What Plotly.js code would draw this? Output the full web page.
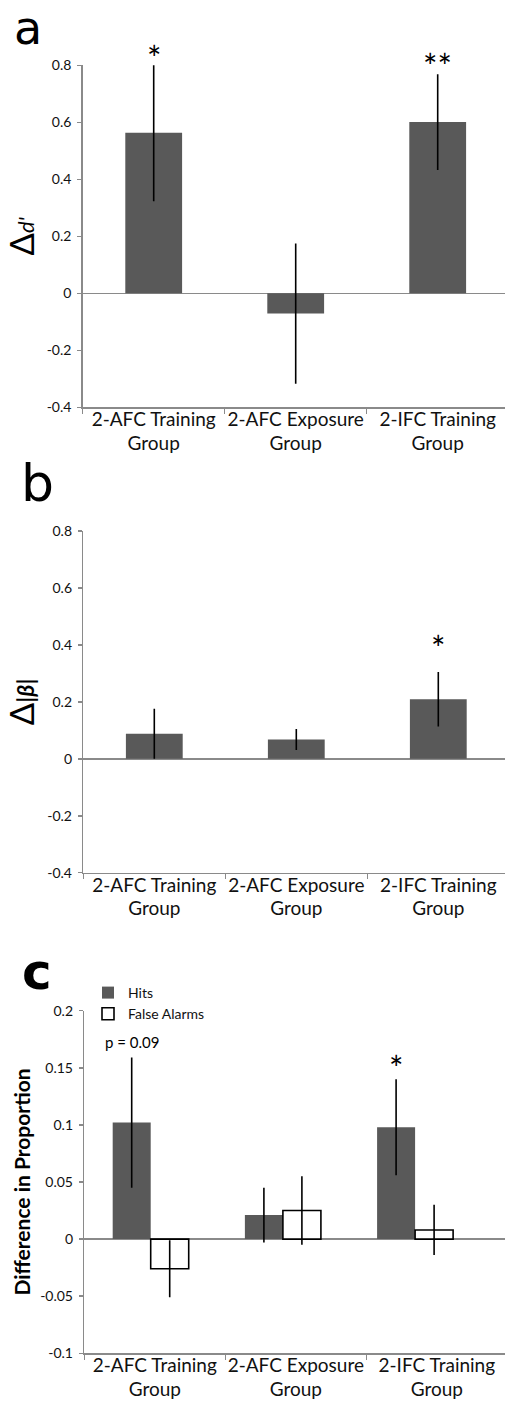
<!DOCTYPE html>
<html>
<head>
<meta charset="utf-8">
<script src="https://cdn.plot.ly/plotly-3.0.1.min.js"></script>
<style>html,body{margin:0;padding:0;background:#fff}</style>
</head>
<body>
<div id="chart" style="width:505px;height:1401px"></div>
<script>
// Groups shown on every panel
const groups = ['2-AFC Training Group', '2-AFC Exposure Group', '2-IFC Training Group'];
const groupLines = [['2-AFC Training', 'Group'], ['2-AFC Exposure', 'Group'], ['2-IFC Training', 'Group']];

// Panel a: change in d'
const dPrime = [0.563, -0.071, 0.601];
const dPrimeErr = [0.240, 0.246, 0.168];
const dPrimeSig = ['*', '', '**'];

// Panel b: change in |beta|
const beta = [0.088, 0.068, 0.209];
const betaErr = [0.088, 0.037, 0.096];
const betaSig = ['', '', '*'];

// Panel c: change in hit and false-alarm proportions
const hits = [0.102, 0.021, 0.098];
const hitsErr = [0.057, 0.024, 0.042];
const hitsSig = ['p = 0.09', '', '*'];
const falseAlarms = [-0.026, 0.025, 0.008];
const falseAlarmsErr = [0.025, 0.030, 0.022];

// Tick labels
const ticksAB = [0.8, 0.6, 0.4, 0.2, 0, -0.2, -0.4];
const ticksABText = ['0.8', '0.6', '0.4', '0.2', '0', '-0.2', '-0.4'];
const ticksC = [0.2, 0.15, 0.1, 0.05, 0, -0.05, -0.1];
const ticksCText = ['0.2', '0.15', '0.1', '0.05', '0', '-0.05', '-0.1'];

// ---- layout geometry (pixels) ----
const W = 505, H = 1401;
const FONT = 'Lato, "Open Sans", sans-serif';
const LETTER_FONT = '"DejaVu Sans", sans-serif';
const GRAY = '#8a8a8a';
const BAR = '#595959';

function yDom(topPx, bottomPx) { return [1 - bottomPx / H, 1 - topPx / H]; }
function xDom(leftPx) { return [leftPx / W, 1]; }

const panelA = {top: 65.3, bottom: 407.3, left: 82.7, cat: 142};
const panelB = {top: 531, bottom: 872.7, left: 83.3, cat: 142};
const panelC = {top: 1010.7, bottom: 1353.3, left: 84.3, cat: 141, barCat: 132.2, firstBar: 66.4};
const wideBar = 0.40;
const pairBar = 0.2875;

// two-line category labels: 19px glyphs on an 18px-font line pitch
const tickText = groupLines.map(function (ls) {
  return ls.map(function (l) { return '<span style="font-size:19px">' + l + '</span>'; }).join('<br>');
});

function catRange(p, cat, start) {
  const s = start === undefined ? -0.5 : start;
  return [s, s + (W - p.left) / cat];
}

function yAxis(p, range, vals, text, title, anchor) {
  return {
    domain: yDom(p.top, p.bottom), range: range, anchor: anchor,
    tickmode: 'array', tickvals: vals, ticktext: text,
    ticks: 'outside', ticklen: 4, tickwidth: 1.5, tickcolor: GRAY,
    ticklabelstandoff: 3,
    showline: true, linecolor: GRAY, linewidth: 1.5,
    zeroline: true, zerolinecolor: GRAY, zerolinewidth: 1.5,
    showgrid: false, fixedrange: true,
    tickfont: {family: FONT, size: 14, color: '#111'},
    title: title
  };
}

function xAxis(p, cat, anchor) {
  return {
    domain: xDom(p.left), range: catRange(p, cat), anchor: anchor,
    type: 'category', categoryorder: 'array', categoryarray: groups,
    tickmode: 'array', tickvals: groups, ticktext: tickText, tickangle: 0,
    tickson: 'boundaries', ticks: 'outside', ticklen: 5, tickwidth: 1.5, tickcolor: GRAY,
    ticklabelstandoff: -4,
    showline: true, linecolor: GRAY, linewidth: 1.5,
    showgrid: false, zeroline: false, fixedrange: true,
    tickfont: {family: FONT, size: 18, color: '#111'}
  };
}

const errStyle = {type: 'data', visible: true, thickness: 1.6, width: 0, color: '#000'};

const traces = [
  {
    type: 'bar', x: groups, y: dPrime, xaxis: 'x', yaxis: 'y', width: wideBar,
    marker: {color: BAR, line: {width: 0}},
    error_y: Object.assign({array: dPrimeErr}, errStyle),
    showlegend: false, hoverinfo: 'none'
  },
  {
    type: 'bar', x: groups, y: beta, xaxis: 'x2', yaxis: 'y2', width: wideBar,
    marker: {color: BAR, line: {width: 0}},
    error_y: Object.assign({array: betaErr}, errStyle),
    showlegend: false, hoverinfo: 'none'
  },
  {
    type: 'bar', name: 'Hits', x: groups, y: hits, xaxis: 'x4', yaxis: 'y3',
    width: pairBar, offset: -pairBar,
    marker: {color: BAR, line: {width: 0}},
    error_y: Object.assign({array: hitsErr}, errStyle),
    hoverinfo: 'none'
  },
  {
    type: 'bar', name: 'False Alarms', x: groups, y: falseAlarms, xaxis: 'x4', yaxis: 'y3',
    width: pairBar, offset: 0,
    marker: {color: '#fff', line: {width: 1.6, color: '#000'}},
    error_y: Object.assign({array: falseAlarmsErr}, errStyle),
    hoverinfo: 'none'
  },
  // registers the group categories on the label axis of panel c
  {
    type: 'scatter', mode: 'markers', x: groups, y: [null, null, null],
    xaxis: 'x3', yaxis: 'y3', showlegend: false, hoverinfo: 'none'
  }
];

const annotations = [];
// Panel letters, placed by their baseline
function letter(txt, xPx, baselinePx, size, bold) {
  annotations.push({
    xref: 'paper', yref: 'paper', x: xPx / W, y: 1 - (baselinePx - 0.928 * size) / H,
    xanchor: 'left', yanchor: 'top', showarrow: false, borderpad: 0,
    text: bold ? '<b>' + txt + '</b>' : txt,
    font: {family: LETTER_FONT, size: size, color: '#000'}
  });
}
letter('a', 13, 42.5, 46, false);
letter('b', 20, 500, 52, false);
letter('c', 21, 988, 50, true);

// Significance marks: anchored at the bar top, lifted by the error bar length
function sig(marks, vals, errs, xref, yref, p, span, xOf, shift) {
  const pxPerUnit = (p.bottom - p.top) / span;
  marks.forEach(function (m, i) {
    if (!m) return;
    const star = m.indexOf('*') === 0;
    annotations.push({
      xref: xref, yref: yref, x: xOf(i), y: vals[i],
      xanchor: 'center', yanchor: 'bottom', showarrow: false,
      yshift: errs[i] * pxPerUnit + shift[i],
      text: m,
      font: {family: FONT, size: star ? 34 : 15, color: '#000'}
    });
  });
}
sig(dPrimeSig, dPrime, dPrimeErr, 'x', 'y', panelA, 1.2, function (i) { return groups[i]; }, [-16, 0, -14]);
sig(betaSig, beta, betaErr, 'x2', 'y2', panelB, 1.2, function (i) { return groups[i]; }, [0, 0, 2]);
sig(hitsSig, hits, hitsErr, 'x4', 'y3', panelC, 0.3, function (i) { return i - pairBar / 2; }, [5, 0, -11]);

const layout = {
  width: W, height: H,
  margin: {l: 0, r: 0, t: 0, b: 0, pad: 0},
  paper_bgcolor: '#fff', plot_bgcolor: 'rgba(0,0,0,0)',
  font: {family: FONT, color: '#000'},
  barmode: 'group',
  showlegend: true,
  legend: {
    x: 88 / W, y: 1 - 977 / H, xanchor: 'left', yanchor: 'top',
    bgcolor: 'rgba(0,0,0,0)', borderwidth: 0, tracegroupgap: 0,
    font: {family: FONT, size: 14, color: '#111'}, itemclick: false, itemdoubleclick: false
  },
  xaxis: xAxis(panelA, panelA.cat, 'y'),
  yaxis: yAxis(panelA, [-0.4, 0.8], ticksAB, ticksABText, {
    text: 'Δ<span style="font-size:22px"><i>d\'</i></span>',
    font: {family: FONT, size: 33, color: '#000'}, standoff: 2
  }, 'x'),
  xaxis2: xAxis(panelB, panelB.cat, 'y2'),
  yaxis2: yAxis(panelB, [-0.4, 0.8], ticksAB, ticksABText, {
    text: 'Δ<span style="font-size:23px"><b>|<i>β</i>|</b></span>',
    font: {family: FONT, size: 33, color: '#000'}, standoff: 2
  }, 'x2'),
  xaxis3: xAxis(panelC, panelC.cat, 'y3'),
  yaxis3: yAxis(panelC, [-0.1, 0.2], ticksC, ticksCText, {
    text: '<b>Difference in Proportion</b>',
    font: {family: FONT, size: 21, color: '#000'}, standoff: 4
  }, 'x3'),
  xaxis4: {
    domain: xDom(panelC.left), overlaying: 'x3', anchor: 'y3', visible: false,
    type: 'category', categoryorder: 'array', categoryarray: groups,
    range: catRange(panelC, panelC.barCat, -panelC.firstBar / panelC.barCat), fixedrange: true
  },
  annotations: annotations
};

Plotly.newPlot('chart', traces, layout, {staticPlot: true, displayModeBar: false});
</script>
</body>
</html>
